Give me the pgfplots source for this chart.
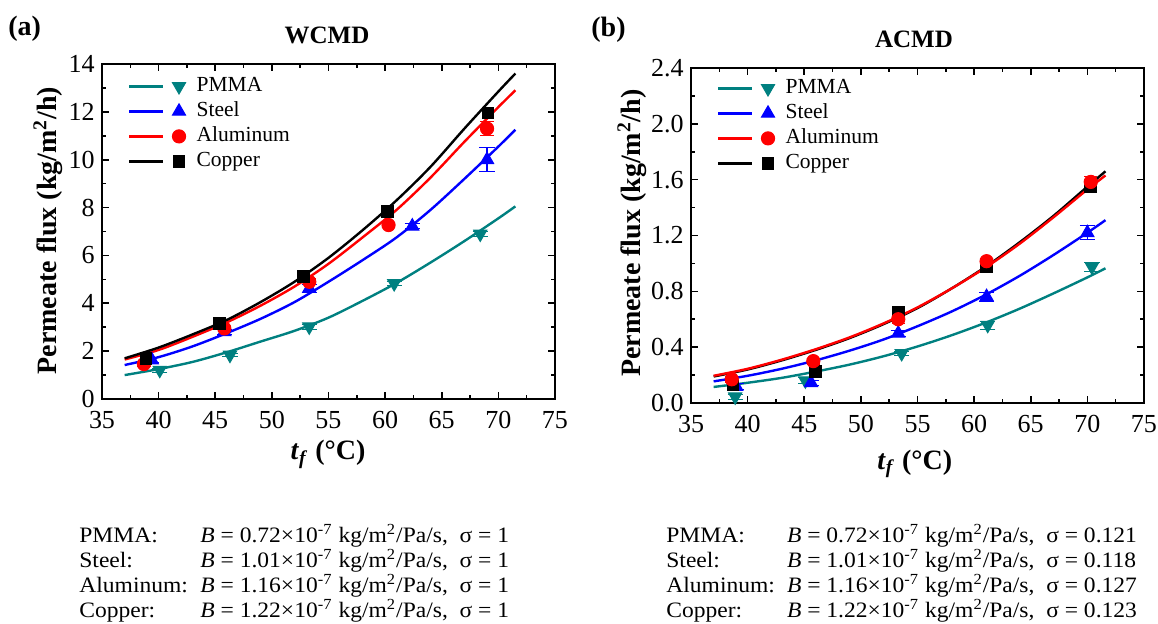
\documentclass[border=0pt]{standalone}
\usepackage{graphicx}
\usepackage{pgfplots}
\pgfplotsset{compat=1.18}
\usepackage{fontspec}
\setmainfont{Liberation Serif}
\definecolor{pteal}{RGB}{0,128,128}

\pgfplotsset{
  myaxis/.style={
    scale only axis, width=226.5pt, height=167.5pt,
    xmin=35, xmax=75, xtick={35,40,...,75}, minor x tick num=1,
    tick align=inside, major tick length=3.5pt, minor tick length=2pt,
    axis line style={line width=0.9pt},
    every tick/.style={line width=0.8pt, black},
    tick label style={font=\fontsize{13}{13}\selectfont},
    xticklabel style={inner sep=0.5pt, yshift=-5.3pt},
    yticklabel style={inner sep=0.5pt, xshift=-3pt},
    /pgf/number format/assume math mode=true,
    legend cell align=left,
    label style={font=\fontsize{14}{14}\selectfont},
  },
}

\begin{document}
\begin{tikzpicture}
\path[use as bounding box] (0,0) rectangle (579pt,311.5pt);

% ---------------- (a) WCMD ----------------
\begin{axis}[myaxis, at={(51pt,112pt)}, anchor=south west,
  ymin=0, ymax=14, ytick={0,2,...,14}, minor y tick num=1,
  xlabel={\textbf{\textit{t}\textsubscript{\textit{f}} (°C)}},
  xlabel style={at={(axis description cs:0.499,-0.182)}, anchor=base},
  ylabel={\textbf{Permeate flux (kg/m\textsuperscript{2}/h)}},
  ylabel style={at={(axis description cs:-0.119,0.503)}, anchor=center},
  legend style={at={(0.057,0.966)}, anchor=north west, draw=none, fill=none,
    inner sep=0pt, outer sep=0pt, row sep=1.5pt, column sep=5pt,
    font=\fontsize{10.75}{12}\selectfont,
    nodes={inner sep=0.5pt, text height=7.5pt, text depth=2.5pt}},
  legend image code/.code={
    \draw[#1, mark=none] (0pt,0pt) -- (17pt,0pt);
    \draw[#1, only marks] plot coordinates {(25pt,0pt)};},
]
\addlegendimage{pteal, line width=1.2pt, mark=triangle*, mark size=3.8pt, mark options={rotate=180, fill=pteal, solid, line width=0.5pt}}
\addlegendentry{PMMA}
\addlegendimage{blue, line width=1.2pt, mark=triangle*, mark size=3.8pt, mark options={fill=blue, solid, line width=0.5pt}}
\addlegendentry{Steel}
\addlegendimage{red, line width=1.2pt, mark=*, mark size=3.3pt, mark options={fill=red, solid, line width=0.5pt}}
\addlegendentry{Aluminum}
\addlegendimage{black, line width=1.2pt, mark=square*, mark size=2.9pt, mark options={fill=black, solid, line width=0.5pt}}
\addlegendentry{Copper}

% fitted curves
\addplot[pteal, line width=1.2pt, smooth, forget plot] coordinates {
 (37,1.0) (40,1.25) (43,1.55) (46,1.95) (49,2.4) (52,2.85) (55,3.4) (58,4.1) (61,4.85) (64,5.7) (67,6.6) (70,7.55) (71.5,8.05)};
\addplot[blue, line width=1.2pt, smooth, forget plot] coordinates {
 (37,1.42) (40,1.75) (43,2.2) (46,2.75) (49,3.35) (52,4.05) (55,4.9) (58,5.8) (61,6.75) (64,7.9) (67,9.2) (70,10.55) (71.5,11.25)};
\addplot[red, line width=1.2pt, smooth, forget plot] coordinates {
 (37,1.65) (40,2.05) (43,2.6) (46,3.2) (49,3.9) (52,4.7) (55,5.65) (58,6.75) (61,7.9) (64,9.25) (67,10.75) (70,12.2) (71.5,12.9)};
\addplot[black, line width=1.2pt, smooth, forget plot] coordinates {
 (37,1.7) (40,2.15) (43,2.7) (46,3.3) (49,4.05) (52,4.9) (55,5.9) (58,7.05) (61,8.3) (64,9.7) (67,11.3) (70,12.85) (71.5,13.6)};

% measured points
\addplot[pteal, only marks, forget plot, mark=triangle*, mark size=3.8pt, mark options={rotate=180, fill=pteal, line width=0.5pt},
  error bars/.cd, y dir=both, y explicit, error bar style={line width=0.8pt}] table[x=x, y=y, y error=e] {
x y e
40.1 1.21 0.08
46.3 1.84 0.08
53.3 3.02 0.10
60.8 4.83 0.08
68.4 6.90 0.10
};
\addplot[blue, only marks, forget plot, mark=triangle*, mark size=3.8pt, mark options={fill=blue, line width=0.5pt},
  error bars/.cd, y dir=both, y explicit, error bar style={line width=0.8pt}] table[x=x, y=y, y error=e] {
x y e
39.4 1.63 0.10
45.8 2.81 0.10
53.3 4.62 0.15
62.4 7.22 0.10
69.0 10.0 0.50
};
\addplot[red, only marks, forget plot, mark=*, mark size=3.3pt, mark options={fill=red, line width=0.5pt},
  error bars/.cd, y dir=both, y explicit, error bar style={line width=0.8pt}] table[x=x, y=y, y error=e] {
x y e
38.7 1.46 0.08
45.8 2.95 0.10
53.3 4.90 0.12
60.3 7.27 0.10
69.0 11.3 0.30
};
\addplot[black, only marks, forget plot, mark=square*, mark size=2.9pt, mark options={fill=black, line width=0.5pt},
  error bars/.cd, y dir=both, y explicit, error bar style={line width=0.8pt}] table[x=x, y=y, y error=e] {
x y e
38.9 1.70 0.10
45.4 3.16 0.10
52.8 5.11 0.08
60.2 7.83 0.25
69.1 11.95 0.15
};
\end{axis}

% ---------------- (b) ACMD ----------------
\begin{axis}[myaxis, at={(345.5pt,110pt)}, anchor=south west,
  ymin=0, ymax=2.4, ytick={0,0.4,0.8,1.2,1.6,2.0,2.4}, minor y tick num=1,
  yticklabel style={/pgf/number format/.cd, fixed, fixed zerofill, precision=1},
  xlabel={\textbf{\textit{t}\textsubscript{\textit{f}} (°C)}},
  xlabel style={at={(axis description cs:0.494,-0.197)}, anchor=base},
  ylabel={\textbf{Permeate flux (kg/m\textsuperscript{2}/h)}},
  ylabel style={at={(axis description cs:-0.130,0.507)}, anchor=center},
  legend style={at={(0.057,0.972)}, anchor=north west, draw=none, fill=none,
    inner sep=0pt, outer sep=0pt, row sep=1.5pt, column sep=5pt,
    font=\fontsize{10.75}{12}\selectfont,
    nodes={inner sep=0.5pt, text height=7.5pt, text depth=2.5pt}},
  legend image code/.code={
    \draw[#1, mark=none] (0pt,0pt) -- (17pt,0pt);
    \draw[#1, only marks] plot coordinates {(25pt,0pt)};},
]
\addlegendimage{pteal, line width=1.2pt, mark=triangle*, mark size=3.8pt, mark options={rotate=180, fill=pteal, solid, line width=0.5pt}}
\addlegendentry{PMMA}
\addlegendimage{blue, line width=1.2pt, mark=triangle*, mark size=3.8pt, mark options={fill=blue, solid, line width=0.5pt}}
\addlegendentry{Steel}
\addlegendimage{red, line width=1.2pt, mark=*, mark size=3.3pt, mark options={fill=red, solid, line width=0.5pt}}
\addlegendentry{Aluminum}
\addlegendimage{black, line width=1.2pt, mark=square*, mark size=2.9pt, mark options={fill=black, solid, line width=0.5pt}}
\addlegendentry{Copper}

\addplot[pteal, line width=1.2pt, smooth, forget plot] coordinates {
 (37,0.115) (40,0.145) (43,0.18) (46,0.225) (49,0.275) (52,0.335) (55,0.405) (58,0.485) (61,0.575) (64,0.675) (67,0.785) (70,0.9) (71.6,0.965)};
\addplot[blue, line width=1.2pt, smooth, forget plot] coordinates {
 (37,0.155) (40,0.195) (43,0.245) (46,0.305) (49,0.375) (52,0.455) (55,0.55) (58,0.655) (61,0.775) (64,0.91) (67,1.06) (70,1.22) (71.6,1.31)};
\addplot[black, line width=1.2pt, smooth, forget plot] coordinates {
 (37,0.19) (40,0.24) (43,0.305) (46,0.38) (49,0.465) (52,0.565) (55,0.68) (58,0.82) (61,0.975) (64,1.15) (67,1.34) (70,1.55) (71.6,1.66)};
\addplot[red, line width=1.2pt, smooth, forget plot] coordinates {
 (37,0.195) (40,0.245) (43,0.31) (46,0.385) (49,0.47) (52,0.57) (55,0.685) (58,0.82) (61,0.97) (64,1.14) (67,1.33) (70,1.53) (71.6,1.63)};

\addplot[pteal, only marks, forget plot, mark=triangle*, mark size=3.8pt, mark options={rotate=180, fill=pteal, line width=0.5pt},
  error bars/.cd, y dir=both, y explicit, error bar style={line width=0.8pt}] table[x=x, y=y, y error=e] {
x y e
38.9 0.045 0.02
45.1 0.160 0.02
53.6 0.356 0.015
61.2 0.558 0.03
70.4 0.976 0.03
};
\addplot[blue, only marks, forget plot, mark=triangle*, mark size=3.8pt, mark options={fill=blue, line width=0.5pt},
  error bars/.cd, y dir=both, y explicit, error bar style={line width=0.8pt}] table[x=x, y=y, y error=e] {
x y e
39.0 0.117 0.02
45.6 0.145 0.02
53.3 0.499 0.02
61.1 0.761 0.03
70.0 1.219 0.05
};
\addplot[black, only marks, forget plot, mark=square*, mark size=2.9pt, mark options={fill=black, line width=0.5pt},
  error bars/.cd, y dir=both, y explicit, error bar style={line width=0.8pt}] table[x=x, y=y, y error=e] {
x y e
38.7 0.129 0.02
46.0 0.224 0.03
53.3 0.653 0.03
61.1 0.976 0.02
70.3 1.548 0.04
};
\addplot[red, only marks, forget plot, mark=*, mark size=3.3pt, mark options={fill=red, line width=0.5pt},
  error bars/.cd, y dir=both, y explicit, error bar style={line width=0.8pt}] table[x=x, y=y, y error=e] {
x y e
38.6 0.170 0.02
45.8 0.300 0.02
53.3 0.600 0.03
61.1 1.016 0.02
70.3 1.584 0.04
};
\end{axis}

% ---------------- titles and panel letters ----------------
\node[anchor=base west, inner sep=0pt, font=\fontsize{14}{14}\selectfont\bfseries] at (4pt,294pt) {(a)};
\node[anchor=base west, inner sep=0pt, font=\fontsize{14}{14}\selectfont\bfseries] at (295.5pt,293.2pt) {(b)};
\node[anchor=base, inner sep=0pt, font=\fontsize{12.5}{12.5}\selectfont\bfseries] at (163.5pt,290pt) {WCMD};
\node[anchor=base, inner sep=0pt, font=\fontsize{12.5}{12.5}\selectfont\bfseries] at (457pt,287.9pt) {ACMD};

% ---------------- parameter text ----------------
\newcommand{\wide}[1]{\scalebox{1.07}[1]{#1}}
\begin{scope}[every node/.style={anchor=base west, inner sep=0pt, font=\fontsize{11}{12}\selectfont}]
\node at (39.5pt,40.1pt) {\wide{PMMA:}};
\node at (39.5pt,27.6pt) {\wide{Steel:}};
\node at (39.5pt,15.1pt) {\wide{Aluminum:}};
\node at (39.5pt,2.7pt) {\wide{Copper:}};
\node at (100pt,40.1pt) {\wide{\textit{B} = 0.72×10\textsuperscript{-7} kg/m\textsuperscript{2}/Pa/s,\ \ σ = 1}};
\node at (100pt,27.6pt) {\wide{\textit{B} = 1.01×10\textsuperscript{-7} kg/m\textsuperscript{2}/Pa/s,\ \ σ = 1}};
\node at (100pt,15.1pt) {\wide{\textit{B} = 1.16×10\textsuperscript{-7} kg/m\textsuperscript{2}/Pa/s,\ \ σ = 1}};
\node at (100pt,2.7pt) {\wide{\textit{B} = 1.22×10\textsuperscript{-7} kg/m\textsuperscript{2}/Pa/s,\ \ σ = 1}};
\node at (333pt,40.1pt) {\wide{PMMA:}};
\node at (333pt,27.6pt) {\wide{Steel:}};
\node at (333pt,15.1pt) {\wide{Aluminum:}};
\node at (333pt,2.7pt) {\wide{Copper:}};
\node at (393.3pt,40.1pt) {\wide{\textit{B} = 0.72×10\textsuperscript{-7} kg/m\textsuperscript{2}/Pa/s,\ \ σ = 0.121}};
\node at (393.3pt,27.6pt) {\wide{\textit{B} = 1.01×10\textsuperscript{-7} kg/m\textsuperscript{2}/Pa/s,\ \ σ = 0.118}};
\node at (393.3pt,15.1pt) {\wide{\textit{B} = 1.16×10\textsuperscript{-7} kg/m\textsuperscript{2}/Pa/s,\ \ σ = 0.127}};
\node at (393.3pt,2.7pt) {\wide{\textit{B} = 1.22×10\textsuperscript{-7} kg/m\textsuperscript{2}/Pa/s,\ \ σ = 0.123}};
\end{scope}
\end{tikzpicture}
\end{document}
